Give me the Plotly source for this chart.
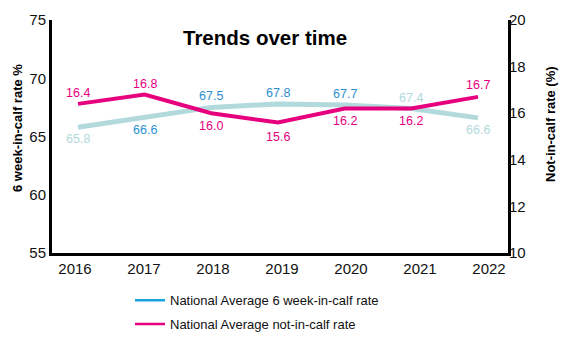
import plotly.graph_objects as go

years = ["2016", "2017", "2018", "2019", "2020", "2021", "2022"]
six_week_rate = [65.8, 66.6, 67.5, 67.8, 67.7, 67.4, 66.6]
not_in_calf_rate = [16.4, 16.8, 16.0, 15.6, 16.2, 16.2, 16.7]
left_ticks = [55, 60, 65, 70, 75]
right_ticks = [10, 12, 14, 16, 18, 20]

# styling
PINK = "#E6007E"
LIGHT = "#B2D9DC"
BLUE = "#2D8FD0"
LEGEND_BLUE = "#1BA3DD"
six_shift = [-12, -12, 11, 11, 11, 11, -12]
six_col = [LIGHT, BLUE, BLUE, BLUE, BLUE, LIGHT, LIGHT]
nic_shift = [11, 11, -13, -14, -12, -12, 12]

FONT = "Liberation Sans, Arial, sans-serif"
xi = list(range(len(years)))
label_step, label_shift = 1.035, -0.045

fig = go.Figure()
fig.add_trace(go.Scatter(
    x=xi, y=six_week_rate, mode="lines", yaxis="y",
    line=dict(color=LIGHT, width=5), showlegend=False, cliponaxis=False))
fig.add_trace(go.Scatter(
    x=xi, y=not_in_calf_rate, mode="lines", yaxis="y2",
    line=dict(color=PINK, width=4), showlegend=False, cliponaxis=False))
# legend entries
fig.add_trace(go.Scatter(x=[None], y=[None], mode="lines", name="National Average 6 week-in-calf rate",
                         line=dict(color=LEGEND_BLUE, width=2.5), legendgroup="a"))
fig.add_trace(go.Scatter(x=[None], y=[None], mode="lines", name="National Average not-in-calf rate",
                         line=dict(color=PINK, width=2.5), legendgroup="b"))

# plot-area pixels
pl, pr, pt, pb = 52, 508, 20, 256
y1_bottom = 253
y2_top = 22
H = pb - pt

annotations = []
for i, v in enumerate(six_week_rate):
    annotations.append(dict(x=xi[i], y=v, xref="x", yref="y", text=f"{v:.1f}",
                            showarrow=False, yshift=six_shift[i],
                            font=dict(size=12.5, color=six_col[i])))
for i, v in enumerate(not_in_calf_rate):
    annotations.append(dict(x=xi[i], y=v, xref="x", yref="y2", text=f"{v:.1f}",
                            showarrow=False, yshift=nic_shift[i],
                            font=dict(size=12.5, color=PINK)))

def px2paper(x, y):
    return (x - pl) / (pr - pl), (pb - y) / H

tx, ty = px2paper(265, 37)
annotations.append(dict(text="<b>Trends over time</b>", x=tx, y=ty, xref="paper", yref="paper",
                        xanchor="center", yanchor="middle",
                        showarrow=False, font=dict(size=20.5, color="black")))
lx_, ly_ = px2paper(17, 128)
annotations.append(dict(text="<b>6 week-in-calf rate %</b>", x=lx_, y=ly_, xref="paper",
                        yref="paper", textangle=-90, showarrow=False,
                        xanchor="center", yanchor="middle",
                        font=dict(size=13, color="black")))
rx_, ry_ = px2paper(550, 124)
annotations.append(dict(text="<b>Not-in-calf rate (%)</b>", x=rx_, y=ry_, xref="paper",
                        yref="paper", textangle=-90, showarrow=False,
                        xanchor="center", yanchor="middle",
                        font=dict(size=13, color="black")))

legx, _ = px2paper(130, 0)

fig.update_layout(
    width=566, height=340,
    margin=dict(l=pl, r=566 - pr, t=pt, b=340 - pb, autoexpand=False),
    paper_bgcolor="white", plot_bgcolor="white",
    font=dict(family=FONT, color="#111111"),
    xaxis=dict(range=[-0.39, 6.45], tickvals=[i * label_step + label_shift for i in xi],
               ticktext=years, showgrid=False, zeroline=False, showline=True,
               linecolor="black", linewidth=3, ticks="", tickfont=dict(size=15),
               automargin=False),
    yaxis=dict(range=[55, 75], tickvals=left_ticks, showgrid=False, zeroline=False,
               domain=[(pb - y1_bottom) / H, 1], automargin=False,
               showline=True, mirror=True, linecolor="black", linewidth=3, ticks="",
               tickfont=dict(size=15)),
    yaxis2=dict(range=[10, 20], tickvals=right_ticks, overlaying="y", side="right",
                domain=[0, (pb - y2_top) / H], automargin=False,
                showgrid=False, zeroline=False, showline=False, ticks="",
                tickfont=dict(size=15)),
    legend=dict(x=legx, xref="paper", y=0.161, yref="container", yanchor="top",
                xanchor="left", font=dict(size=13), traceorder="grouped",
                tracegroupgap=4),
    annotations=annotations,
)

fig.write_html("out.html")
